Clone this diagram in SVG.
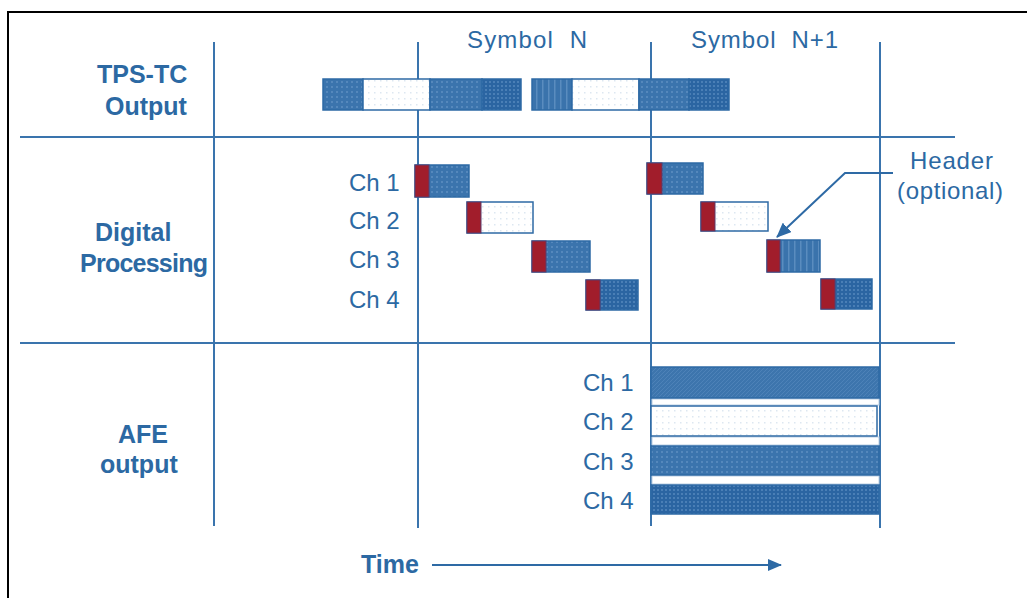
<svg xmlns="http://www.w3.org/2000/svg" width="1027" height="598" viewBox="0 0 1027 598">
  <style>
    .lbl { font-family: "Liberation Sans", Arial, sans-serif; font-weight: bold; font-size: 25px; fill: #2c69a3; }
    .txt { font-family: "Liberation Sans", Arial, sans-serif; font-size: 24px; fill: #2c69a3; }
    .grid { stroke: #3a74ad; stroke-width: 2; fill: none; }
    .blk { stroke: #2e6aa5; stroke-width: 1.5; }
    .hdr { fill: #a11d2b; stroke: #5a3a6a; stroke-width: 1; }
    .conn { stroke: #2e6aa5; stroke-width: 2; fill: none; }
    .gap { fill: #ffffff; stroke: #b9cee3; stroke-width: 1; }
  </style>
  <defs>
    <pattern id="dotMid" width="5" height="5" patternUnits="userSpaceOnUse">
      <rect width="5" height="5" fill="#3b74ad"/>
      <rect x="1" y="1" width="2" height="2" fill="#5588bc"/>
    </pattern>
    <pattern id="dotDark" width="4" height="4" patternUnits="userSpaceOnUse">
      <rect width="4" height="4" fill="#2b65a2"/>
      <rect x="1" y="1" width="2" height="2" fill="#4a7fb6"/>
    </pattern>
    <pattern id="dotLight" width="6" height="6" patternUnits="userSpaceOnUse">
      <rect width="6" height="6" fill="#ffffff"/>
      <rect x="2" y="2" width="1.5" height="1.5" fill="#dde7f1"/>
    </pattern>
    <pattern id="stripe" width="6" height="6" patternUnits="userSpaceOnUse">
      <rect width="6" height="6" fill="#3a73ac"/>
      <rect x="2" y="0" width="1.5" height="6" fill="#5a8cbf"/>
    </pattern>
    <pattern id="diag" width="4" height="4" patternUnits="userSpaceOnUse">
      <rect width="4" height="4" fill="#3d75ad"/>
      <path d="M0,4 L4,0" stroke="#4d82b8" stroke-width="1"/>
    </pattern>
    <marker id="arrowHead" markerWidth="15" markerHeight="13" refX="14" refY="6.5" orient="auto" markerUnits="userSpaceOnUse">
      <path d="M0,0 L15,6.5 L0,13 Z" fill="#2e6aa5"/>
    </marker>
    <marker id="arrowHeadTime" markerWidth="14" markerHeight="12" refX="13" refY="6" orient="auto" markerUnits="userSpaceOnUse">
      <path d="M0,0 L14,6 L0,12 Z" fill="#2e6aa5"/>
    </marker>
  </defs>

  <rect width="1027" height="598" fill="#ffffff"/>

  <!-- outer frame (top and left edges) -->
  <path d="M8,598 V12 H1027" stroke="#000000" stroke-width="2" fill="none"/>

  <!-- row / column grid -->
  <g id="grid">
    <line class="grid" x1="20" y1="137" x2="955" y2="137"/>
    <line class="grid" x1="20" y1="343" x2="955" y2="343"/>
    <line class="grid" x1="214" y1="42" x2="214" y2="526"/>
    <line class="grid" x1="418" y1="42" x2="418" y2="528"/>
    <line class="grid" x1="651" y1="42" x2="651" y2="526"/>
    <line class="grid" x1="880" y1="42" x2="880" y2="528"/>
  </g>

  <!-- column headings -->
  <g id="symbol-headings">
    <text class="txt" x="467" y="48" textLength="120" lengthAdjust="spacing" xml:space="preserve">Symbol  N</text>
    <text class="txt" x="691" y="48" textLength="147" lengthAdjust="spacing" xml:space="preserve">Symbol  N+1</text>
  </g>

  <!-- row labels -->
  <g id="row-labels">
    <text class="lbl" x="97" y="83">TPS-TC</text>
    <text class="lbl" x="105" y="115">Output</text>
    <text class="lbl" x="95" y="241">Digital</text>
    <text class="lbl" x="80" y="272" textLength="128" lengthAdjust="spacing">Processing</text>
    <text class="lbl" x="118" y="443">AFE</text>
    <text class="lbl" x="100" y="473">output</text>
  </g>

  <!-- TPS-TC output stream -->
  <g id="tpstc-stream">
    <rect class="blk" x="323" y="79" width="40" height="31" fill="url(#dotMid)"/>
    <rect class="blk" x="363" y="79" width="67" height="31" fill="url(#dotLight)"/>
    <rect class="blk" x="430" y="79" width="52" height="31" fill="url(#dotMid)"/>
    <rect class="blk" x="482" y="79" width="39" height="31" fill="url(#dotDark)"/>
    <rect class="blk" x="532" y="79" width="40" height="31" fill="url(#stripe)"/>
    <rect class="blk" x="572" y="79" width="67" height="31" fill="url(#dotLight)"/>
    <rect class="blk" x="639" y="79" width="50" height="31" fill="url(#dotMid)"/>
    <rect class="blk" x="689" y="79" width="40" height="31" fill="url(#dotDark)"/>
  </g>

  <!-- digital processing channel labels -->
  <g id="dp-labels">
    <text class="txt" x="349" y="191">Ch 1</text>
    <text class="txt" x="349" y="229">Ch 2</text>
    <text class="txt" x="349" y="268">Ch 3</text>
    <text class="txt" x="349" y="308">Ch 4</text>
  </g>

  <!-- digital processing, symbol N -->
  <g id="dp-n-ch1">
    <rect class="blk" x="415" y="165" width="54" height="32" fill="url(#dotMid)"/>
    <rect class="hdr" x="415" y="165" width="14" height="32"/>
  </g>
  <g id="dp-n-ch2">
    <rect class="blk" x="467" y="202" width="66" height="31" fill="url(#dotLight)"/>
    <rect class="hdr" x="467" y="202" width="14" height="31"/>
  </g>
  <g id="dp-n-ch3">
    <rect class="blk" x="532" y="241" width="58" height="31" fill="url(#dotMid)"/>
    <rect class="hdr" x="532" y="241" width="14" height="31"/>
  </g>
  <g id="dp-n-ch4">
    <rect class="blk" x="586" y="280" width="52" height="30" fill="url(#dotDark)"/>
    <rect class="hdr" x="586" y="280" width="14" height="30"/>
  </g>

  <!-- digital processing, symbol N+1 -->
  <g id="dp-n1-ch1">
    <rect class="blk" x="647" y="163" width="56" height="31" fill="url(#dotMid)"/>
    <rect class="hdr" x="647" y="163" width="15" height="31"/>
  </g>
  <g id="dp-n1-ch2">
    <rect class="blk" x="701" y="202" width="67" height="29" fill="url(#dotLight)"/>
    <rect class="hdr" x="701" y="202" width="14" height="29"/>
  </g>
  <g id="dp-n1-ch3">
    <rect class="blk" x="767" y="240" width="53" height="32" fill="url(#stripe)"/>
    <rect class="hdr" x="767" y="240" width="13" height="32"/>
  </g>
  <g id="dp-n1-ch4">
    <rect class="blk" x="821" y="279" width="51" height="30" fill="url(#dotDark)"/>
    <rect class="hdr" x="821" y="279" width="14" height="30"/>
  </g>

  <!-- header callout -->
  <g id="header-note">
    <text class="txt" x="910" y="169" textLength="83" lengthAdjust="spacing">Header</text>
    <text class="txt" x="897" y="199" textLength="106" lengthAdjust="spacing">(optional)</text>
  </g>

  <!-- AFE output channel labels -->
  <g id="afe-labels">
    <text class="txt" x="583" y="391">Ch 1</text>
    <text class="txt" x="583" y="430">Ch 2</text>
    <text class="txt" x="583" y="470">Ch 3</text>
    <text class="txt" x="583" y="509">Ch 4</text>
  </g>

  <!-- light spacers between AFE bars -->
  <rect class="gap" x="652" y="399" width="227" height="6"/>
  <rect class="gap" x="652" y="437" width="227" height="8"/>
  <rect class="gap" x="652" y="476" width="227" height="8"/>

  <!-- AFE output channel bars -->
  <g id="afe-ch1"><rect class="blk" x="651" y="367" width="228" height="31" fill="url(#diag)"/></g>
  <g id="afe-ch2"><rect class="blk" x="651" y="406" width="226" height="30" fill="url(#dotLight)"/></g>
  <g id="afe-ch3"><rect class="blk" x="651" y="446" width="228" height="29" fill="url(#dotMid)"/></g>
  <g id="afe-ch4"><rect class="blk" x="651" y="485" width="228" height="29" fill="url(#dotDark)"/></g>

  <!-- time axis -->
  <g id="time-axis">
    <text class="lbl" x="361" y="573">Time</text>
  </g>

  <!-- connectors -->
  <g id="connectors">
    <polyline class="conn" points="893,173 845,173 777,237" marker-end="url(#arrowHead)"/>
    <line class="conn" x1="432" y1="565" x2="781" y2="565" marker-end="url(#arrowHeadTime)"/>
  </g>
</svg>
